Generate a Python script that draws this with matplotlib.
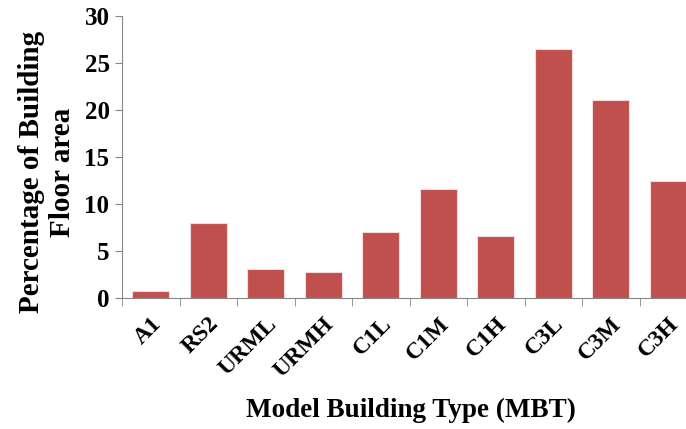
import matplotlib.pyplot as plt
import numpy as np

types = ['A1', 'RS2', 'URML', 'URMH', 'C1L', 'C1M', 'C1H', 'C3L', 'C3M', 'C3H']
pct_area = [0.7, 8.0, 3.1, 2.8, 7.0, 11.6, 6.6, 26.5, 21.1, 12.5]

plt.rcParams['font.family'] = ['Liberation Serif', 'DejaVu Serif']
plt.rcParams['font.weight'] = 'bold'

fig = plt.figure(figsize=(6.86, 4.29), dpi=100)
# axes runs a bit past the right edge, like the original
ax = fig.add_axes([122/686, 131/429, 575/686, 282/429])

x = np.arange(len(types))
ax.bar(x, pct_area, width=0.64, color='#C0504D', edgecolor='#F2DCDB', linewidth=0.8)

ax.set_xlim(-0.5, len(types) - 0.5)
ax.set_ylim(0, 30)
ax.set_yticks(range(0, 31, 5))
ax.set_xticks(x)
ax.set_xticklabels(types, rotation=45, ha='right', rotation_mode='anchor', fontsize=17, fontweight='bold')
ax.set_xticks(np.arange(-0.5, len(types), 1), minor=True)
ax.tick_params(axis='x', which='major', length=0, pad=11)
ax.tick_params(axis='x', which='minor', length=6, color='#868686')
ax.tick_params(axis='y', length=5, color='#868686', labelsize=18, pad=4)
for lab in ax.get_yticklabels():
    lab.set_fontweight('bold')

for s in ['top', 'right']:
    ax.spines[s].set_visible(False)
for s in ['left', 'bottom']:
    ax.spines[s].set_color('#868686')

fig.text(47/686, 1 - 172/429, 'Percentage of Building\nFloor area', fontsize=21, fontweight='bold',
         rotation=90, ha='center', va='center', multialignment='center', linespacing=1.15)
fig.text(411/686, 1 - 410/429, 'Model Building Type (MBT)', fontsize=19.5, fontweight='bold', ha='center', va='center')

fig.savefig('out.png', dpi=100)
